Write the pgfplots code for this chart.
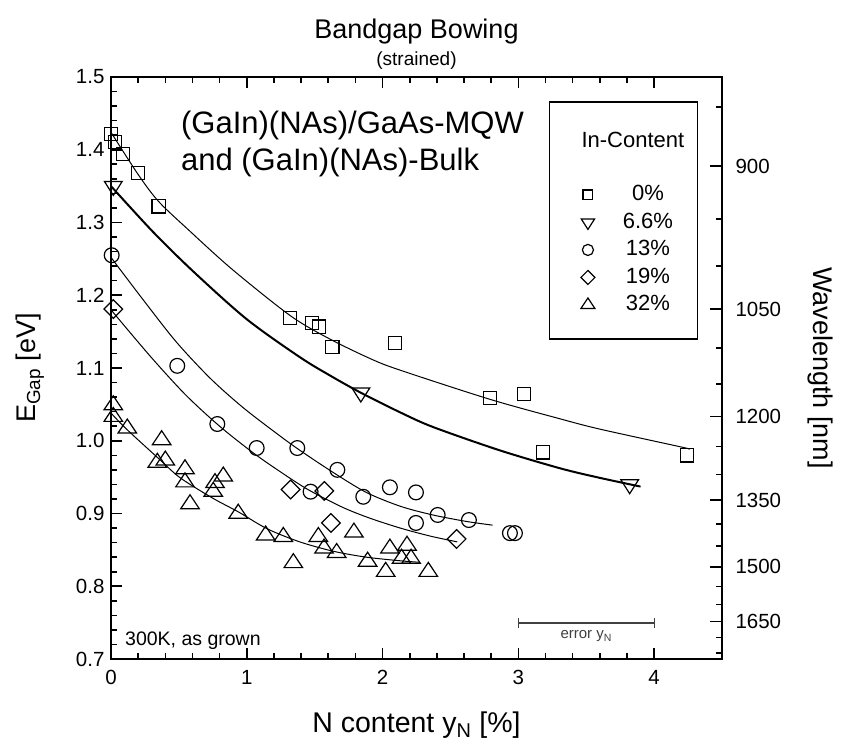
\documentclass[border=0pt]{standalone}
\usepackage{fontspec}
\setmainfont{Liberation Sans}
\usepackage{pgfplots}
\pgfplotsset{compat=1.18}
\newcommand{\fs}[1]{\fontsize{#1}{#1}\selectfont}
\begin{document}
\begin{tikzpicture}
\pgfplotsset{
  common/.style={
    at={(0pt,0pt)}, anchor=south west,
    width=611pt, height=582pt, scale only axis,
    xmin=0, xmax=4.5, ymin=0.7, ymax=1.5,
    tick align=inside,
    /pgf/number format/assume math mode=true,
    tick label style={font=\fs{20.5}},
  }
}
\begin{axis}[common,
  xtick={0,1,2,3,4}, minor x tick num=4,
  ytick={0.7,0.8,0.9,1.0,1.1,1.2,1.3,1.4,1.5}, minor y tick num=4,
  ytick pos=left, xtick pos=both,
  major tick length=11pt, minor tick length=6pt,
  axis line style={line width=2pt},
  every tick/.style={black, line width=1.6pt},
  y tick label style={/pgf/number format/.cd, fixed, fixed zerofill, precision=1},
  xticklabel shift=8pt, yticklabel shift=3pt,
  xlabel={N content y\textsubscript{N} [\%]},
  ylabel={E\textsubscript{Gap} [eV]},
  every axis x label/.style={at={(rel axis cs:0.5,0)}, yshift=-66pt, anchor=center, font=\fs{28.5}},
  every axis y label/.style={at={(rel axis cs:0,0.5)}, xshift=-81pt, rotate=90, anchor=center, font=\fs{27}},
  legend style={draw=none, fill=none, inner sep=0pt, outer sep=0pt,
    at={(axis cs:3.461,1.353)}, anchor=north west,
    font=\fs{22}, row sep=5.5pt,
    nodes={inner sep=1pt, text height=16pt, text depth=4pt},
    /tikz/every odd column/.append style={column sep=28pt}},
  legend cell align=left,
  legend image code/.code={\draw[#1] plot coordinates {(0pt,0pt)};},
  legend image post style={every mark/.append style={scale=0.75}},
]
% fitted curves
\addplot[forget plot, smooth, line width=1pt] coordinates {(0,1.424) (0.2,1.366) (0.35,1.329) (0.57,1.290) (0.89,1.236) (1.32,1.172) (1.61,1.140) (1.92,1.112) (2.13,1.097) (2.79,1.057) (3.31,1.030) (3.60,1.016) (4.21,0.991) (4.25,0.989)};
\addplot[forget plot, smooth, line width=2pt] coordinates {(0,1.350) (0.31,1.287) (0.61,1.232) (1.0,1.167) (1.39,1.115) (1.61,1.090) (1.84,1.066) (2.13,1.039) (2.37,1.019) (2.86,0.987) (3.31,0.962) (3.60,0.949) (3.9,0.937)};
\addplot[forget plot, smooth, line width=1pt] coordinates {(0,1.252) (0.24,1.193) (0.48,1.136) (0.73,1.086) (0.97,1.046) (1.22,1.010) (1.39,0.987) (1.64,0.956) (1.88,0.929) (2.13,0.910) (2.37,0.898) (2.62,0.889) (2.81,0.884)};
\addplot[forget plot, smooth, line width=1pt] coordinates {(0,1.180) (0.29,1.116) (0.55,1.063) (0.80,1.020) (1.05,0.983) (1.25,0.957) (1.45,0.933) (1.70,0.909) (1.90,0.894) (2.13,0.880) (2.35,0.869) (2.55,0.861)};
\addplot[forget plot, smooth, line width=1pt] coordinates {(0,1.038) (0.12,1.015) (0.36,0.974) (0.51,0.949) (0.75,0.921) (0.94,0.902) (1.15,0.879) (1.39,0.861) (1.64,0.848) (1.88,0.840) (2.13,0.835) (2.27,0.833)};
% data
\addplot[only marks, mark=square, mark size=6.6pt, mark options={line width=1.2pt}] coordinates {(0,1.422) (0.03,1.411) (0.09,1.394) (0.20,1.368) (0.35,1.322) (1.32,1.169) (1.48,1.162) (1.53,1.157) (1.63,1.129) (2.09,1.134) (2.79,1.059) (3.04,1.064) (3.18,0.984) (4.24,0.980)};
\addlegendentry{\makebox[48pt]{0\%}}
\addplot[only marks, mark=triangle, mark size=9.3pt, mark options={rotate=180, xscale=1.1, line width=1.2pt}] coordinates {(0.017,1.350) (1.84,1.066) (3.82,0.940)};
\addlegendentry{\makebox[48pt]{6.6\%}}
\addplot[only marks, mark=o, mark size=7.4pt, mark options={line width=1.2pt}] coordinates {(0.005,1.255) (0.488,1.103) (0.783,1.023) (1.073,0.990) (1.372,0.990) (1.47,0.930) (1.667,0.960) (1.858,0.923) (2.054,0.936) (2.246,0.929) (2.246,0.887) (2.406,0.898) (2.636,0.891) (2.938,0.873) (2.975,0.873)};
\addlegendentry{\makebox[48pt]{13\%}}
\addplot[only marks, mark=square, mark size=6.6pt, mark options={rotate=45, line width=1.2pt}] coordinates {(0.017,1.181) (1.323,0.933) (1.571,0.931) (1.62,0.887) (2.545,0.865)};
\addlegendentry{\makebox[48pt]{19\%}}
\addplot[only marks, mark=triangle, mark size=9.3pt, mark options={xscale=1.15, line width=1.2pt}] coordinates {(0.017,1.049) (0.017,1.033) (0.12,1.017) (0.373,1.001) (0.341,0.970) (0.40,0.973) (0.545,0.961) (0.545,0.943) (0.582,0.913) (0.753,0.930) (0.766,0.942) (0.827,0.951) (0.937,0.900) (1.139,0.870) (1.269,0.868) (1.343,0.832) (1.527,0.868) (1.569,0.852) (1.662,0.846) (1.789,0.874) (1.890,0.834) (2.023,0.820) (2.054,0.852) (2.14,0.838) (2.18,0.856) (2.21,0.838) (2.337,0.820)};
\addlegendentry{\makebox[48pt]{32\%}}
% error bar
\addplot[forget plot, draw=none, mark=none, error bars/.cd, x dir=both, x explicit,
  error mark=|,
  error bar style={draw=darkgray, line width=1.2pt},
  error mark options={draw=darkgray, mark size=5pt, line width=1.2pt}]
  coordinates {(3.5,0.7495) +- (0.5,0)};
% annotations
\node[anchor=center, font=\fs{15}, text=darkgray] at (axis cs:3.5,0.731) {error y\textsubscript{N}};
\node[anchor=base west, font=\fs{19.5}, inner sep=0pt] at (axis cs:0.103,0.718) {300K, as grown};
\node[anchor=base west, font=\fs{31}, inner sep=0pt] at (axis cs:0.515,1.423) {(GaIn)(NAs)/GaAs-MQW};
\node[anchor=base west, font=\fs{31}, inner sep=0pt] at (axis cs:0.515,1.372) {and (GaIn)(NAs)-Bulk};
\draw[line width=1.1pt] (axis cs:3.2327,1.4656) rectangle (axis cs:4.3225,1.1399);
\node[anchor=center, font=\fs{22}] at (axis cs:3.844,1.4134) {In-Content};
\end{axis}
\begin{axis}[common,
  axis x line=none, axis y line*=right,
  axis line style={line width=2pt},
  every tick/.style={black, line width=1.6pt},
  major tick length=12pt, minor tick length=6pt,
  ytick={1.37760,1.18080,1.03320,0.91840,0.82656,0.75142},
  yticklabels={900,1050,1200,1350,1500,1650},
  minor ytick={1.45864,1.30509,1.23984,1.12713,1.07812,0.99187,0.95372,0.88560,0.85506,0.79990,0.77490,0.72932,0.70848},
  yticklabel shift=10pt,
  ylabel={Wavelength [nm]},
  every axis y label/.style={at={(rel axis cs:1,0.5)}, xshift=98pt, rotate=-90, anchor=center, font=\fs{27}},
]
\addplot[draw=none, forget plot] coordinates {(0,1) (1,1)};
\end{axis}
\node[anchor=center, font=\fs{27}] at (305.5pt,627pt) {Bandgap Bowing};
\node[anchor=center, font=\fs{19}] at (305.5pt,598pt) {(strained)};
\pgfresetboundingbox
\path (-111pt,-90pt) rectangle (739pt,659pt);
\end{tikzpicture}
\end{document}
